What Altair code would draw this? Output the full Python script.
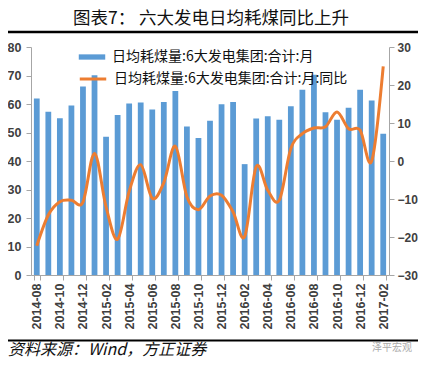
import altair as alt
import pandas as pd

months = ["2014-08", "2014-09", "2014-10", "2014-11", "2014-12",
          "2015-01", "2015-02", "2015-03", "2015-04", "2015-05", "2015-06",
          "2015-07", "2015-08", "2015-09", "2015-10", "2015-11", "2015-12",
          "2016-01", "2016-02", "2016-03", "2016-04", "2016-05", "2016-06",
          "2016-07", "2016-08", "2016-09", "2016-10", "2016-11", "2016-12",
          "2017-01", "2017-02"]
coal = [61.9, 57.3, 55.0, 59.5, 66.1, 70.1, 48.5, 56.1, 60.2, 60.5, 58.1,
        60.7, 64.6, 52.1, 48.1, 54.1, 59.9, 60.7, 38.9, 54.9, 55.7, 54.5,
        59.2, 65.0, 70.3, 57.1, 54.5, 58.7, 65.0, 61.2, 49.6]
yoy = [-22.3, -14.2, -10.7, -10.3, -10.8, 2.0, -12.1, -20.6, -8.0, -1.0, -9.8,
       -5.7, 3.9, -9.4, -12.8, -9.2, -9.0, -13.4, -19.9, -1.5, -7.7, -10.3,
       3.3, 7.2, 8.7, 9.0, 12.9, 8.5, 8.1, 0.0, 24.9]

bar_label = "日均耗煤量:6大发电集团:合计:月"
line_label = "日均耗煤量:6大发电集团:合计:月:同比"
title_text = "图表7：   六大发电日均耗煤同比上升"
footer_text = "资料来源：Wind，方正证券"
mark_text = "泽平宏观"
left_ticks = [0, 10, 20, 30, 40, 50, 60, 70, 80]
right_ticks = [-30, -20, -10, 0, 10, 20, 30]

BLUE = "#5B9BD5"
ORANGE = "#ED7D31"
AXC = "#404040"
CJK = "Noto Sans CJK SC"

df = pd.DataFrame({"month": months, "coal": coal, "yoy": yoy,
                   "s1": bar_label, "s2": line_label})

xenc = alt.X("month:O", sort=months, title=None,
             scale=alt.Scale(paddingInner=0.5, paddingOuter=0.25),
             axis=alt.Axis(values=months[::2], tickBand="extent", labelAngle=-90,
                           labelFont="Liberation Sans", labelFontWeight="bold",
                           labelFontSize=12.5, labelColor=AXC, labelPadding=3,
                           tickSize=5, tickColor="#A6A6A6", domainColor="#A6A6A6"))

bars = alt.Chart(df).mark_bar().encode(
    x=xenc,
    y=alt.Y("coal:Q", title=None, scale=alt.Scale(domain=[0, 80], nice=False),
            axis=alt.Axis(orient="left", values=left_ticks, grid=False,
                          labelFont="Liberation Sans", labelFontWeight="bold",
                          labelFontSize=12.5, labelColor=AXC, labelPadding=5,
                          tickSize=5, tickColor="#A6A6A6", domainColor="#A6A6A6")),
    color=alt.Color("s1:N", scale=alt.Scale(domain=[bar_label], range=[BLUE]),
                    legend=alt.Legend(orient="none", legendX=47, legendY=-4, title=None,
                                      symbolType="M-1,-0.2H1V0.2H-1Z", symbolSize=700,
                                      labelFont=CJK, labelFontSize=14, labelColor="#111",
                                      labelOffset=6, padding=0, labelLimit=0)),
)

line = alt.Chart(df).mark_line(interpolate="cardinal", strokeWidth=3).encode(
    x=xenc,
    y=alt.Y("yoy:Q", title=None, scale=alt.Scale(domain=[-30, 30], nice=False),
            axis=alt.Axis(orient="right", values=right_ticks, grid=False,
                          labelFont="Liberation Sans", labelFontWeight="bold",
                          labelFontSize=12, labelColor=AXC, labelPadding=3,
                          tickSize=5, tickColor="#A6A6A6", domainColor="#A6A6A6")),
    stroke=alt.Stroke("s2:N", scale=alt.Scale(domain=[line_label], range=[ORANGE]),
                      legend=alt.Legend(orient="none", legendX=47, legendY=17, title=None,
                                        symbolType="stroke", symbolSize=700,
                                        symbolStrokeWidth=3,
                                        labelFont=CJK, labelFontSize=14, labelColor="#111",
                                        labelOffset=6, padding=0, labelLimit=0)),
)

sep = pd.DataFrame({"pos": ["top", "bottom"]})
top_line = alt.Chart(sep).transform_filter("datum.pos == 'top'").mark_rule(
    color="#000000", strokeWidth=2.5).encode(
    x=alt.value(-23), x2=alt.value(387), y=alt.value(-15))
bottom_line = alt.Chart(sep).transform_filter("datum.pos == 'bottom'").mark_rule(
    color="#000000", strokeWidth=2).encode(
    x=alt.value(-23), x2=alt.value(387), y=alt.value(293.5))
title = alt.Chart(pd.DataFrame({"t": [title_text]})).mark_text(
    align="center", baseline="middle", font=CJK, fontSize=17.5, color="#111").encode(
    x=alt.value(180), y=alt.value(-28), text="t:N")
footer = alt.Chart(pd.DataFrame({"t": [footer_text]})).mark_text(
    align="left", baseline="middle", font=CJK,
    fontSize=16, fontStyle="italic", color="#111").encode(
    x=alt.value(-23), y=alt.value(302.5), text="t:N")
wm = alt.Chart(pd.DataFrame({"t": [mark_text]})).mark_text(
    align="left", baseline="middle", font=CJK, fontSize=10, color="#AAAAAA").encode(
    x=alt.value(341), y=alt.value(301), text="t:N")

chart = alt.layer(bars, line, top_line, bottom_line, title, footer, wm).resolve_scale(
    y="independent", color="independent", stroke="independent"
).properties(
    width=358, height=228,
    autosize=alt.AutoSizeParams(type="none"),
    padding={"left": 23, "top": 39, "right": 29, "bottom": 84},
).configure_view(stroke=None)

chart.save("out.html", embed_options={"renderer": "svg", "actions": False})
